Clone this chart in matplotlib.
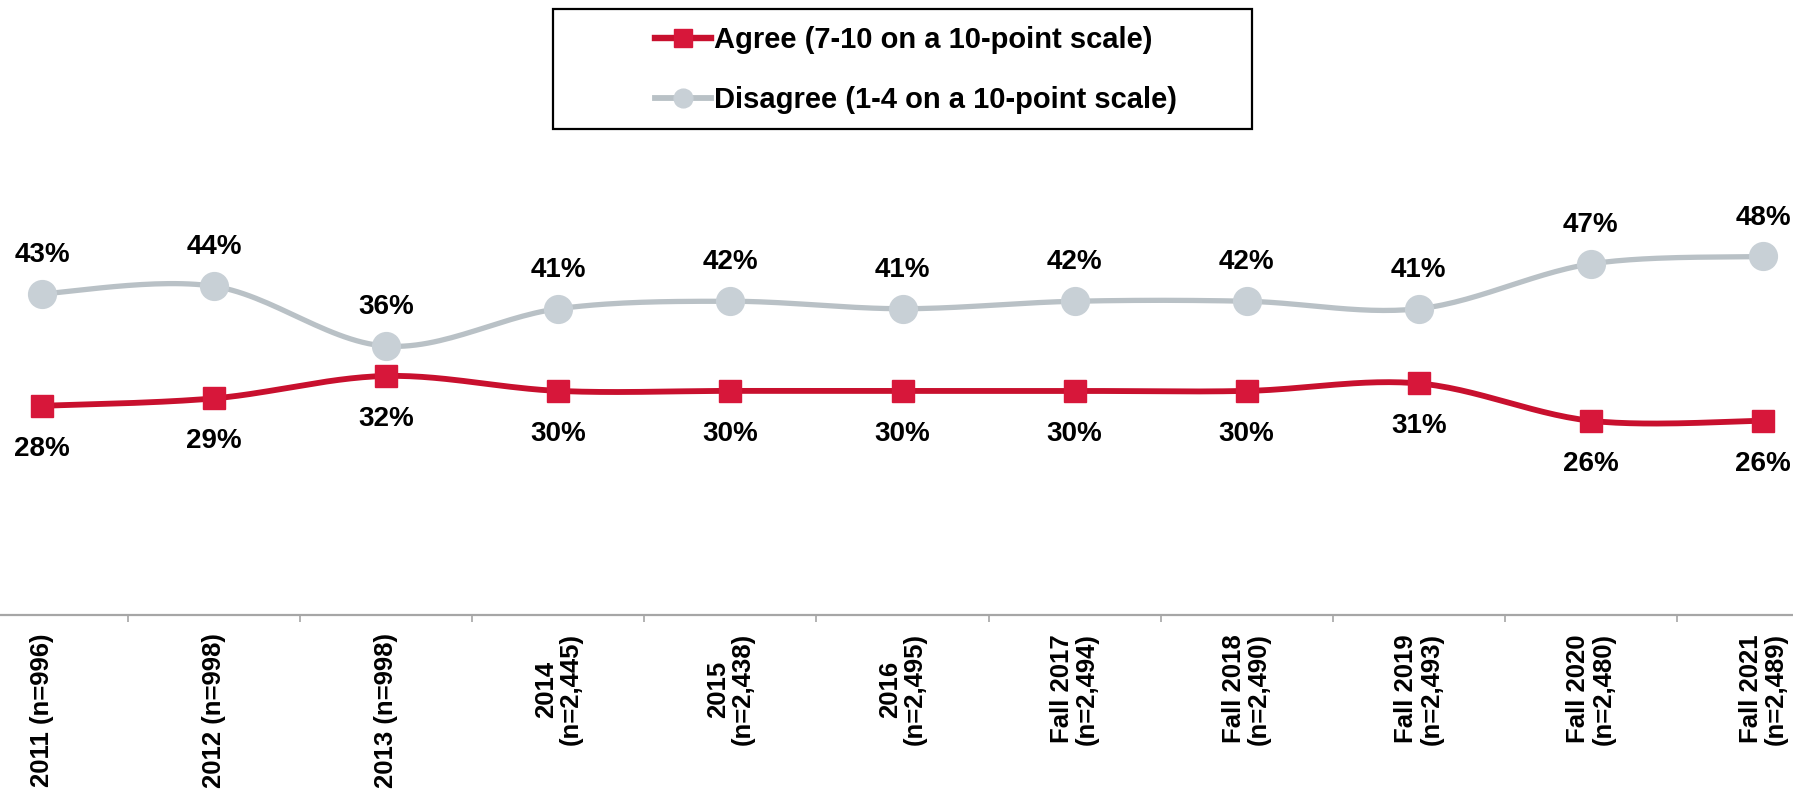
import numpy as np
import matplotlib
matplotlib.use("Agg")
import matplotlib.pyplot as plt
from matplotlib.patches import Rectangle
from matplotlib.lines import Line2D

plt.rcParams['font.family'] = ['Liberation Sans', 'DejaVu Sans']
plt.rcParams['font.weight'] = 'bold'

# data
periods = ["2011 (n=996)", "2012 (n=998)", "2013 (n=998)",
           "2014\n(n=2,445)", "2015\n(n=2,438)", "2016\n(n=2,495)",
           "Fall 2017\n(n=2,494)", "Fall 2018\n(n=2,490)", "Fall 2019\n(n=2,493)",
           "Fall 2020\n(n=2,480)", "Fall 2021\n(n=2,489)"]
agree = [28, 29, 32, 30, 30, 30, 30, 30, 31, 26, 26]
disagree = [43, 44, 36, 41, 42, 41, 42, 42, 41, 47, 48]

agree_label = "Agree (7-10 on a 10-point scale)"
disagree_label = "Disagree (1-4 on a 10-point scale)"

RED_LINE = "#C8102E"
RED_MARK = "#D7173A"
GRAY_LINE = "#B9C1C6"
GRAY_MARK = "#C8D0D6"


def smooth(x, y, steps=30):
    # excel-like smoothed line (catmull-rom as cubic bezier)
    p = np.column_stack([x, y]).astype(float)
    p_ext = np.vstack([p[0], p, p[-1]])
    out = []
    t = np.linspace(0, 1, steps)[:, None]
    for i in range(len(p) - 1):
        p0, p1, p2, p3 = p_ext[i], p_ext[i + 1], p_ext[i + 2], p_ext[i + 3]
        c1 = p1 + (p2 - p0) / 6
        c2 = p2 - (p3 - p1) / 6
        seg = ((1 - t) ** 3) * p1 + 3 * ((1 - t) ** 2) * t * c1 + 3 * (1 - t) * t ** 2 * c2 + t ** 3 * p2
        out.append(seg if i == 0 else seg[1:])
    out = np.vstack(out)
    return out[:, 0], out[:, 1]


W, H = 1793, 794
fig = plt.figure(figsize=(W / 100, H / 100), dpi=100)
ax = fig.add_axes([0, 1 - 615 / H, 1, 615 / H])

x = np.arange(len(periods))

sx, sy = smooth(x, disagree)
ax.plot(sx, sy, color=GRAY_LINE, lw=3.8, solid_capstyle='round', zorder=2)
ax.plot(x, disagree, ls='none', marker='o', ms=20, color=GRAY_MARK, mec=GRAY_MARK, zorder=3)

sx, sy = smooth(x, agree)
ax.plot(sx, sy, color=RED_LINE, lw=4.2, solid_capstyle='round', zorder=2)
ax.plot(x, agree, ls='none', marker='s', ms=16.5, color=RED_MARK, mec=RED_MARK, zorder=3)

for i in range(len(periods)):
    ax.annotate(f"{disagree[i]}%", (x[i], disagree[i]), xytext=(0, 28), textcoords='offset points',
                ha='center', va='center', fontsize=20, fontweight='bold', color='black')
    ax.annotate(f"{agree[i]}%", (x[i], agree[i]), xytext=(0, -31), textcoords='offset points',
                ha='center', va='center', fontsize=20, fontweight='bold', color='black')

ax.set_xlim(-42 / 172.1, 10 + 30 / 172.1)
ax.set_ylim(0, 615 / 7.47)

for s in ['top', 'right', 'left']:
    ax.spines[s].set_visible(False)
ax.spines['bottom'].set_color('#A6A6A6')
ax.spines['bottom'].set_linewidth(1.6)
ax.set_yticks([])

ax.set_xticks(x)
ax.set_xticklabels(periods, rotation=90, fontsize=18.5, fontweight='bold',
                   va='top', ha='center', multialignment='center', linespacing=1.05)
ax.tick_params(axis='x', which='major', length=0, pad=13)
ax.set_xticks(x[:-1] + 0.5, minor=True)
ax.tick_params(axis='x', which='minor', length=5, width=1.2, color='#A6A6A6')

# legend box
fig.patches.append(Rectangle((553 / W, 1 - 129 / H), 699 / W, 120 / H, transform=fig.transFigure,
                             fill=False, edgecolor='black', linewidth=1.6))
handles = [Line2D([], [], color=RED_LINE, lw=4.6, marker='s', ms=13, mfc=RED_MARK, mec=RED_MARK),
           Line2D([], [], color=GRAY_LINE, lw=4.2, marker='o', ms=13.5, mfc=GRAY_MARK, mec=GRAY_MARK)]
fig.legend(handles, [agree_label, disagree_label], loc='center left',
           bbox_to_anchor=(640 / W, 1 - 70 / H), frameon=False, borderpad=0,
           handlelength=1.95, handletextpad=0.07, labelspacing=1.1,
           prop={'size': 21, 'weight': 'bold'})

fig.savefig("out.png", dpi=100)
